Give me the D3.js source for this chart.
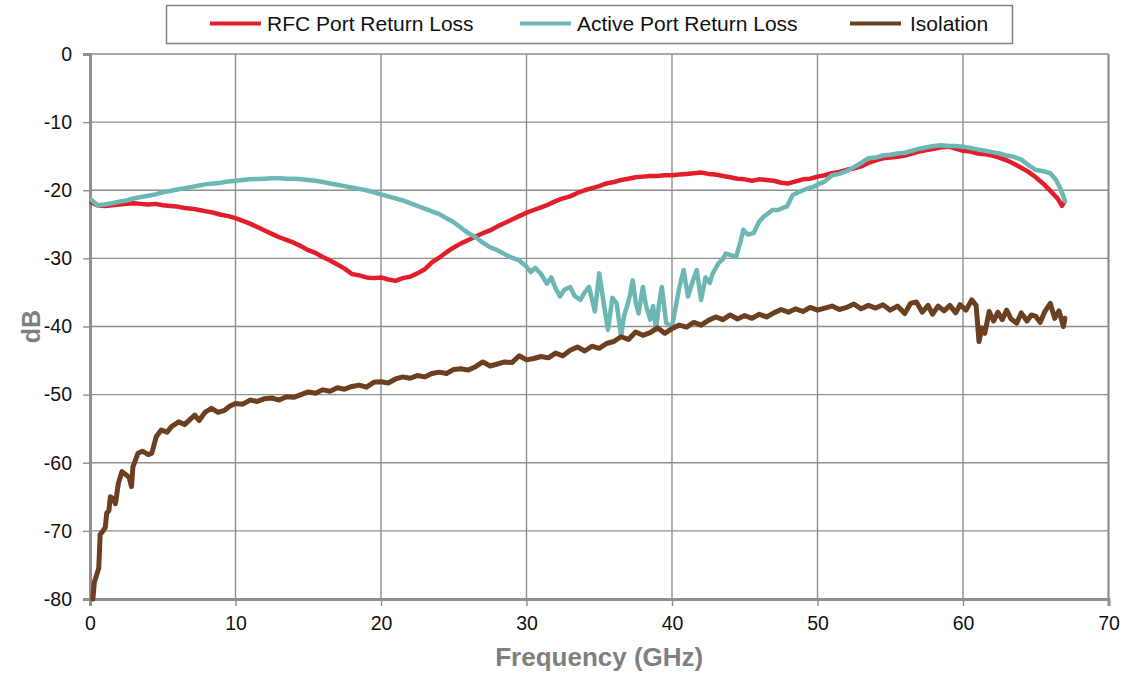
<!DOCTYPE html>
<html>
<head>
<meta charset="utf-8">
<script src="https://cdn.jsdelivr.net/npm/d3@7"></script>
<style>
  html, body { margin: 0; padding: 0; background: #fff; }
  svg { display: block; font-family: "Liberation Sans", Arial, sans-serif; }
</style>
</head>
<body>
<svg id="chart" width="1135" height="677"></svg>
<script>
// Axis ticks
const xTicks = [0, 10, 20, 30, 40, 50, 60, 70];
const yTicks = [0, -10, -20, -30, -40, -50, -60, -70, -80];

// Series names and colours
const seriesNames = ["RFC Port Return Loss", "Active Port Return Loss", "Isolation"];
const seriesColors = ["#e31e2a", "#6cb6b4", "#6b3f1f"];

// RFC port return loss (GHz, dB)
const rfcFreq = [0.1,0.5,1,1.5,2,2.5,3,3.5,4,4.5,5,5.5,6,6.5,7,7.5,8,8.5,9,9.5,10,10.5,11,11.5,12,12.5,13,13.5,14,14.5,15,15.5,16,16.5,17,17.5,18,18.5,19,19.5,20,20.5,21,21.5,22,22.5,23,23.5,24,24.5,25,25.5,26,26.5,27,27.5,28,28.5,29,29.5,30,30.5,31,31.5,32,32.5,33,33.5,34,34.5,35,35.5,36,36.5,37,37.5,38,38.5,39,39.5,40,40.5,41,41.5,42,42.5,43,43.5,44,44.5,45,45.5,46,46.5,47,47.5,48,48.5,49,49.5,50,50.5,51,51.5,52,52.5,53,53.5,54,54.5,55,55.5,56,56.5,57,57.5,58,58.5,59,59.5,60,60.5,61,61.5,62,62.5,63,63.5,64,64.5,65,65.5,66,66.5,66.8,67];
const rfcDb = [-21.8,-22.2,-22.3,-22.2,-22.1,-22.0,-21.9,-22.0,-22.1,-22.0,-22.2,-22.3,-22.4,-22.6,-22.7,-22.9,-23.1,-23.3,-23.6,-23.8,-24.1,-24.5,-24.9,-25.4,-25.9,-26.4,-26.9,-27.3,-27.7,-28.2,-28.8,-29.2,-29.8,-30.3,-30.9,-31.5,-32.3,-32.5,-32.8,-32.9,-32.8,-33.1,-33.3,-32.9,-32.7,-32.2,-31.6,-30.6,-29.9,-29.1,-28.4,-27.8,-27.3,-26.8,-26.3,-25.9,-25.3,-24.8,-24.3,-23.8,-23.3,-22.9,-22.5,-22.1,-21.6,-21.2,-20.9,-20.4,-20.0,-19.7,-19.4,-19.0,-18.8,-18.5,-18.3,-18.1,-18.0,-17.9,-17.9,-17.8,-17.8,-17.7,-17.6,-17.5,-17.4,-17.6,-17.7,-17.9,-18.1,-18.3,-18.4,-18.6,-18.4,-18.5,-18.6,-18.9,-19.0,-18.7,-18.4,-18.3,-18.0,-17.8,-17.5,-17.3,-17.0,-16.8,-16.5,-16.0,-15.6,-15.3,-15.2,-15.1,-14.9,-14.6,-14.3,-14.1,-13.9,-13.7,-13.6,-13.9,-14.2,-14.3,-14.6,-14.7,-14.9,-15.2,-15.6,-16.1,-16.7,-17.3,-18.1,-19.0,-20.1,-21.2,-22.3,-21.6];

// Active port return loss (GHz, dB)
const activeFreq = [0.1,0.5,1,1.5,2,2.5,3,3.5,4,4.5,5,5.5,6,6.5,7,7.5,8,8.5,9,9.5,10,10.5,11,11.5,12,12.5,13,13.5,14,14.5,15,15.5,16,16.5,17,17.5,18,18.5,19,19.5,20,20.5,21,21.5,22,22.5,23,23.5,24,24.5,25,25.5,26,26.5,27,27.5,28,28.5,29,29.5,30,30.3,30.6,31,31.4,31.7,32,32.3,32.6,33,33.3,33.7,34,34.3,34.7,35,35.3,35.6,35.9,36.2,36.5,36.7,36.9,37.1,37.3,37.5,37.7,38,38.2,38.5,38.7,38.9,39.1,39.3,39.6,40,40.3,40.5,40.8,41.1,41.4,41.7,42,42.3,42.6,42.8,43.2,43.5,43.7,44,44.4,44.7,44.9,45.2,45.6,46,46.3,46.6,46.9,47.3,47.6,47.9,48.3,48.7,49,49.4,49.7,50,50.5,51,51.5,52,52.5,53,53.5,54,54.5,55,55.5,56,56.5,57,57.5,58,58.5,59,59.5,60,60.5,61,61.5,62,62.5,63,63.5,64,64.5,65,65.5,66,66.4,66.7,66.9,67];
const activeDb = [-21.4,-22.2,-22.1,-21.9,-21.7,-21.5,-21.2,-21.0,-20.8,-20.6,-20.3,-20.1,-19.9,-19.7,-19.5,-19.3,-19.1,-19.0,-18.9,-18.7,-18.6,-18.5,-18.4,-18.35,-18.3,-18.25,-18.25,-18.3,-18.3,-18.4,-18.5,-18.6,-18.8,-19.0,-19.2,-19.4,-19.6,-19.8,-20.0,-20.3,-20.6,-20.9,-21.2,-21.5,-21.9,-22.3,-22.7,-23.1,-23.5,-24.1,-24.7,-25.5,-26.3,-26.9,-27.7,-28.4,-28.8,-29.4,-29.9,-30.3,-31.2,-32.0,-31.4,-32.3,-33.7,-32.8,-34.4,-35.6,-34.6,-34.2,-35.5,-36.1,-35.0,-34.2,-37.8,-32.2,-36.5,-40.5,-35.8,-36.6,-41.5,-38.5,-37.1,-35.5,-33.2,-36.4,-38.1,-34.2,-36.8,-39.0,-37.0,-40.5,-36.8,-34.2,-39.5,-40.0,-36.6,-34.3,-31.7,-35.6,-33.5,-31.7,-36.1,-32.8,-33.6,-32.2,-30.7,-30.1,-29.3,-29.5,-29.8,-27.6,-25.8,-26.5,-26.3,-24.6,-23.9,-23.4,-22.9,-22.9,-22.6,-22.4,-20.7,-20.3,-20.0,-19.7,-19.5,-19.2,-18.7,-17.8,-17.6,-17.2,-16.6,-16.0,-15.3,-15.2,-14.9,-14.8,-14.6,-14.5,-14.2,-13.9,-13.7,-13.5,-13.4,-13.5,-13.5,-13.6,-13.8,-14.0,-14.2,-14.4,-14.6,-14.9,-15.1,-15.5,-16.3,-17.0,-17.2,-17.5,-18.5,-19.8,-20.9,-21.6];

// Isolation (GHz, dB)
const isoFreq = [0.2,0.3,0.45,0.6,0.7,0.9,1.05,1.15,1.3,1.4,1.6,1.75,1.95,2.2,2.5,2.7,2.85,2.95,3.3,3.6,4,4.25,4.55,4.9,5.3,5.6,6.1,6.5,6.9,7.2,7.5,7.9,8.35,8.8,9.25,9.6,10,10.5,11,11.5,12,12.5,13,13.5,14,14.5,15,15.5,16,16.5,17,17.5,18,18.5,19,19.5,20,20.5,21,21.5,22,22.5,23,23.5,24,24.5,25,25.5,26,26.5,27,27.5,28,28.5,29,29.5,30,30.5,31,31.5,32,32.5,33,33.5,34,34.5,35,35.5,36,36.5,37,37.5,38,38.5,39,39.5,40,40.5,41,41.5,42,42.5,43,43.5,44,44.5,45,45.5,46,46.5,47,47.5,48,48.5,49,49.5,50,50.5,51,51.5,52,52.5,53,53.5,54,54.5,55,55.5,56,56.4,56.8,57.2,57.6,57.9,58.3,58.7,59.1,59.5,59.8,60.2,60.6,60.9,61.1,61.3,61.5,61.8,62.1,62.4,62.7,63,63.3,63.7,64,64.4,64.7,65,65.3,65.6,66,66.3,66.6,66.9,67];
const isoDb = [-80.0,-77.5,-76.5,-75.5,-70.5,-70.0,-69.5,-67.4,-67.0,-65.0,-65.3,-66.0,-63.0,-61.3,-61.8,-62.2,-63.5,-60.6,-58.6,-58.3,-58.8,-58.6,-56.2,-55.2,-55.5,-54.7,-54.0,-54.4,-53.6,-53.0,-53.8,-52.6,-52.0,-52.6,-52.3,-51.7,-51.3,-51.4,-50.8,-51.0,-50.6,-50.5,-50.8,-50.3,-50.4,-50.0,-49.6,-49.8,-49.3,-49.5,-49.0,-49.2,-48.8,-48.6,-48.9,-48.2,-48.1,-48.3,-47.7,-47.4,-47.6,-47.2,-47.4,-46.9,-46.7,-46.9,-46.3,-46.2,-46.4,-45.9,-45.2,-45.8,-45.5,-45.2,-45.3,-44.3,-44.9,-44.7,-44.4,-44.6,-43.9,-44.3,-43.5,-43.0,-43.6,-42.9,-43.2,-42.5,-42.2,-41.5,-41.9,-40.8,-41.3,-40.9,-40.2,-41.0,-40.3,-39.8,-40.1,-39.4,-39.8,-39.1,-38.6,-39.0,-38.3,-38.9,-38.4,-38.8,-38.2,-38.6,-38.0,-37.5,-37.9,-37.4,-37.8,-37.2,-37.6,-37.3,-37.0,-37.5,-37.2,-36.7,-37.4,-36.9,-37.3,-36.8,-37.6,-37.0,-38.1,-36.6,-36.4,-37.9,-36.9,-38.2,-37.0,-37.7,-36.9,-38.0,-36.8,-37.6,-36.1,-36.9,-42.2,-40.2,-41.0,-37.8,-39.2,-37.9,-39.0,-37.6,-38.9,-39.5,-38.0,-39.2,-38.3,-38.5,-39.4,-37.9,-36.6,-38.8,-37.7,-40.0,-38.8];

const series = [
  { name: seriesNames[0], color: seriesColors[0], freq: rfcFreq, db: rfcDb, width: 4.5 },
  { name: seriesNames[1], color: seriesColors[1], freq: activeFreq, db: activeDb, width: 4.5 },
  { name: seriesNames[2], color: seriesColors[2], freq: isoFreq, db: isoDb, width: 5 }
];

const svg = d3.select("#chart");
const plot = { left: 90, right: 1108.5, top: 54, bottom: 599 };

const x = d3.scaleLinear().domain([0, 70]).range([plot.left, plot.right]);
const y = d3.scaleLinear().domain([-80, 0]).range([plot.bottom, plot.top]);

const gridColor = "#8e8e8e";
const textFont = "Liberation Sans, Arial, sans-serif";
const plainNumber = d => String(d);

// Vertical grid lines
svg.append("g")
  .selectAll("line")
  .data(xTicks.filter(d => d > 0))
  .join("line")
  .attr("x1", d => x(d)).attr("x2", d => x(d))
  .attr("y1", plot.top).attr("y2", plot.bottom)
  .attr("stroke", gridColor)
  .attr("stroke-width", d => d === 70 ? 2.2 : 1.4);

// Horizontal grid lines
svg.append("g")
  .selectAll("line")
  .data(yTicks.filter(d => d > -80))
  .join("line")
  .attr("x1", plot.left).attr("x2", plot.right)
  .attr("y1", d => y(d)).attr("y2", d => y(d))
  .attr("stroke", gridColor)
  .attr("stroke-width", 1.4);

// Y axis
const yAxis = svg.append("g")
  .attr("transform", `translate(${plot.left},0)`)
  .call(d3.axisLeft(y).tickValues(yTicks).tickSize(7).tickPadding(11).tickFormat(plainNumber));
yAxis.select(".domain").attr("stroke", gridColor).attr("stroke-width", 3);
yAxis.selectAll(".tick line").attr("stroke", gridColor).attr("stroke-width", 1.4);
yAxis.selectAll(".tick text")
  .attr("fill", "#111").attr("font-size", 19.5)
  .attr("font-family", textFont);

// X axis
const xAxis = svg.append("g")
  .attr("transform", `translate(0,${plot.bottom})`)
  .call(d3.axisBottom(x).tickValues(xTicks).tickSize(7).tickPadding(10).tickFormat(plainNumber));
xAxis.select(".domain").attr("stroke", gridColor).attr("stroke-width", 3);
xAxis.selectAll(".tick line").attr("stroke", gridColor).attr("stroke-width", 1.4);
xAxis.selectAll(".tick text")
  .attr("fill", "#111").attr("font-size", 19.5)
  .attr("font-family", textFont);

// Data lines
const line = d3.line()
  .x(d => x(d[0]))
  .y(d => y(d[1]));

svg.append("g")
  .selectAll("path")
  .data(series)
  .join("path")
  .attr("d", s => line(s.freq.map((f, i) => [f, s.db[i]])))
  .attr("fill", "none")
  .attr("stroke", s => s.color)
  .attr("stroke-width", s => s.width)
  .attr("stroke-linejoin", "round")
  .attr("stroke-linecap", "round");

// Axis titles
svg.append("text")
  .attr("x", (plot.left + plot.right) / 2)
  .attr("y", 666)
  .attr("text-anchor", "middle")
  .attr("font-size", 26)
  .attr("font-weight", "bold")
  .attr("font-family", textFont)
  .attr("fill", "#7f7f7f")
  .text("Frequency (GHz)");

svg.append("text")
  .attr("transform", `translate(40,${(plot.top + plot.bottom) / 2}) rotate(-90)`)
  .attr("text-anchor", "middle")
  .attr("font-size", 25)
  .attr("font-weight", "bold")
  .attr("font-family", textFont)
  .attr("fill", "#7f7f7f")
  .text("dB");

// Legend
const legend = svg.append("g");
legend.append("rect")
  .attr("x", 166.5).attr("y", 5.5)
  .attr("width", 846).attr("height", 38)
  .attr("fill", "#fff")
  .attr("stroke", "#808080")
  .attr("stroke-width", 1.5);

const legendX = [210, 520, 850];
const items = legend.selectAll("g.item")
  .data(series)
  .join("g")
  .attr("class", "item")
  .attr("transform", (d, i) => `translate(${legendX[i]},23.5)`);
items.append("line")
  .attr("x1", 0).attr("x2", 51)
  .attr("stroke", d => d.color)
  .attr("stroke-width", 4);
items.append("text")
  .attr("x", (d, i) => i === 2 ? 60 : 57)
  .attr("y", 7.5)
  .attr("font-size", 21)
  .attr("font-family", textFont)
  .attr("fill", "#111")
  .text(d => d.name);
</script>
</body>
</html>
